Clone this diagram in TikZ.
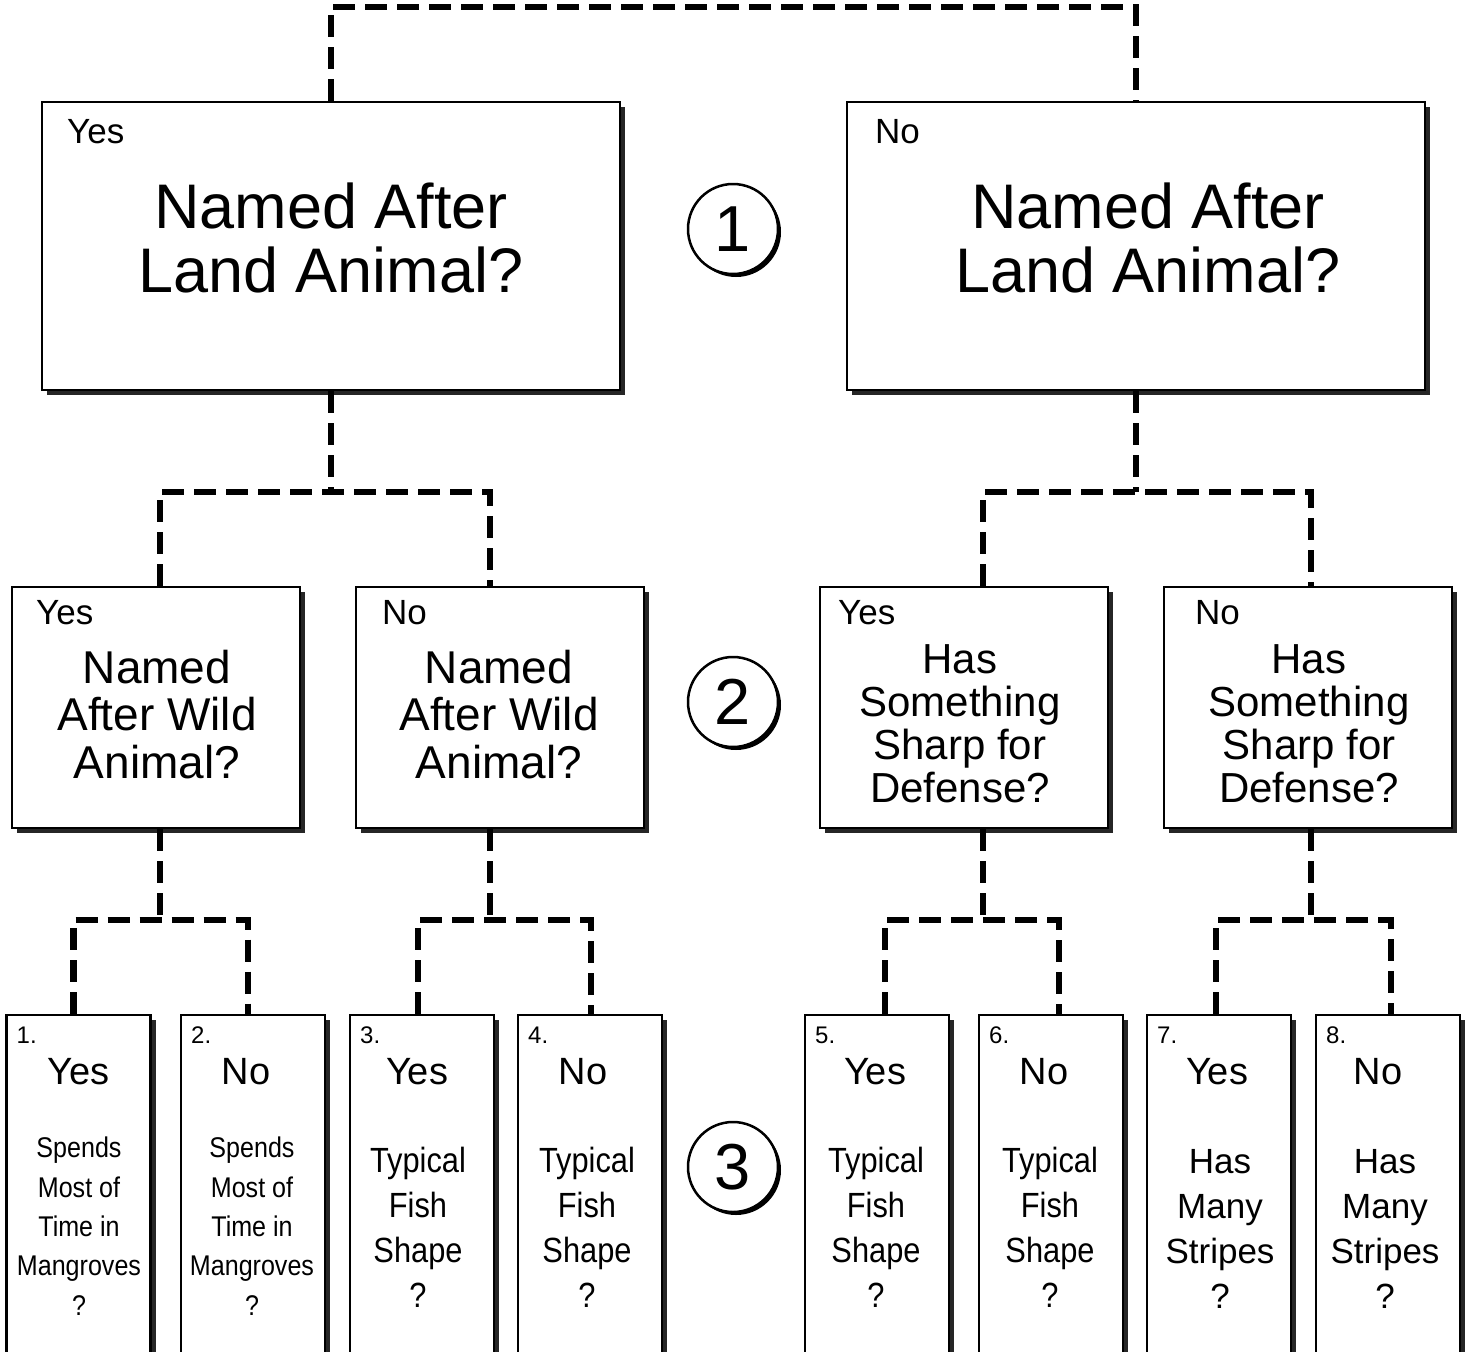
\documentclass[tikz,border=0pt]{standalone}
\usepackage{fontspec}
\setmainfont{Liberation Sans}
\newfontfamily\narrowsf[FakeStretch=0.88]{Liberation Sans}
\usetikzlibrary{shadows}

\tikzset{
  box/.style={draw, line width=2.2pt, fill=white, inner sep=0pt,
    drop shadow={shadow xshift=5pt, shadow yshift=-5pt, fill=black!85, opacity=1}},
  bigbox/.style={box, minimum width=578pt, minimum height=288pt},
  midbox/.style={box, minimum width=288pt, minimum height=241pt},
  leafbox/.style={box, minimum width=144pt, minimum height=345pt},
  badge/.style={circle, draw, line width=2.5pt, fill=white, inner sep=0pt,
    minimum size=90pt, font=\fontsize{65}{65}\selectfont,
    drop shadow={shadow xshift=3pt, shadow yshift=-3pt, fill=black, opacity=1}},
  link/.style={line width=6.5pt, dash pattern=on 22pt off 10pt},
  tag/.style={anchor=base west, inner sep=0pt, font=\fontsize{35}{35}\selectfont},
  num/.style={anchor=base west, inner sep=0pt, font=\fontsize{24}{24}\selectfont},
  ans/.style={anchor=base, inner sep=0pt, font=\fontsize{38}{38}\selectfont},
  % text nodes sit on the baseline of their last line
  bigtxt/.style={anchor=base, align=center, inner sep=0pt, font=\fontsize{63}{64}\selectfont},
  midtxt/.style={anchor=base, align=center, inner sep=0pt, font=\fontsize{46}{47.5}\selectfont},
  sharptxt/.style={anchor=base, align=center, inner sep=0pt, font=\fontsize{42}{43}\selectfont},
  mangtxt/.style={anchor=base, align=center, inner sep=0pt, font=\narrowsf\fontsize{28.5}{39.3}\selectfont},
  fishtxt/.style={anchor=base, align=center, inner sep=0pt, font=\narrowsf\fontsize{35}{44.7}\selectfont},
  stripetxt/.style={anchor=base, align=center, inner sep=0pt, font=\fontsize{35}{45}\selectfont},
}

\begin{document}
\begin{tikzpicture}[x=1pt, y=-1pt]
    \useasboundingbox (0,0) rectangle (1470,1352);
    \clip (0,0) rectangle (1470,1352);

    % Question 1
    \node[bigbox] (q1a) at (331,246) {};
    \node[tag] (q1a-tag) at (67,143) {Yes};
    \node[bigtxt] (q1a-txt) at (331,292) {Named After\\Land Animal?};
    \node[bigbox] (q1b) at (1136,246) {};
    \node[tag] (q1b-tag) at (875,143) {No};
    \node[bigtxt] (q1b-txt) at (1148,292) {Named After\\Land Animal?};
    \node[badge] (c1) at (733,229) {1};

    % Question 2
    \node[midbox] (q2a) at (156,707.5) {};
    \node[tag] (q2a-tag) at (36,624) {Yes};
    \node[midtxt] (q2a-txt) at (157,778) {Named\\After Wild\\Animal?};
    \node[midbox] (q2b) at (500,707.5) {};
    \node[tag] (q2b-tag) at (382,624) {No};
    \node[midtxt] (q2b-txt) at (499,778) {Named\\After Wild\\Animal?};
    \node[midbox] (q2c) at (964,707.5) {};
    \node[tag] (q2c-tag) at (838,624) {Yes};
    \node[sharptxt] (q2c-txt) at (960,802) {Has\\Something\\Sharp for\\Defense?};
    \node[midbox] (q2d) at (1308,707.5) {};
    \node[tag] (q2d-tag) at (1195,624) {No};
    \node[sharptxt] (q2d-txt) at (1309,802) {Has\\Something\\Sharp for\\Defense?};
    \node[badge] (c2) at (733,702) {2};

    % Question 3
    \node[leafbox] (r1) at (78.5,1187.5) {};
    \node[num] (r1-num) at (16.5,1043) {1.};
    \node[ans] (r1-ans) at (78.5,1084) {Yes};
    \node[mangtxt] (r1-txt) at (79,1315) {Spends\\Most of\\Time in\\Mangroves\\?};
    \node[leafbox] (r2) at (253,1187.5) {};
    \node[num] (r2-num) at (191,1043) {2.};
    \node[ans] (r2-ans) at (246,1084) {No};
    \node[mangtxt] (r2-txt) at (252,1315) {Spends\\Most of\\Time in\\Mangroves\\?};
    \node[leafbox] (r3) at (422,1187.5) {};
    \node[num] (r3-num) at (360,1043) {3.};
    \node[ans] (r3-ans) at (417,1084) {Yes};
    \node[fishtxt] (r3-txt) at (418,1307) {Typical\\Fish\\Shape\\?};
    \node[leafbox] (r4) at (590,1187.5) {};
    \node[num] (r4-num) at (528,1043) {4.};
    \node[ans] (r4-ans) at (583,1084) {No};
    \node[fishtxt] (r4-txt) at (587,1307) {Typical\\Fish\\Shape\\?};
    \node[leafbox] (r5) at (877,1187.5) {};
    \node[num] (r5-num) at (815,1043) {5.};
    \node[ans] (r5-ans) at (875,1084) {Yes};
    \node[fishtxt] (r5-txt) at (876,1307) {Typical\\Fish\\Shape\\?};
    \node[leafbox] (r6) at (1051,1187.5) {};
    \node[num] (r6-num) at (989,1043) {6.};
    \node[ans] (r6-ans) at (1044,1084) {No};
    \node[fishtxt] (r6-txt) at (1050,1307) {Typical\\Fish\\Shape\\?};
    \node[leafbox] (r7) at (1219,1187.5) {};
    \node[num] (r7-num) at (1157,1043) {7.};
    \node[ans] (r7-ans) at (1217,1084) {Yes};
    \node[stripetxt] (r7-txt) at (1220,1308) {Has\\Many\\Stripes\\?};
    \node[leafbox] (r8) at (1388,1187.5) {};
    \node[num] (r8-num) at (1326,1043) {8.};
    \node[ans] (r8-ans) at (1378,1084) {No};
    \node[stripetxt] (r8-txt) at (1385,1308) {Has\\Many\\Stripes\\?};
    \node[badge] (c3) at (733,1167) {3};

    % Dashed tree
    \coordinate (top) at (733,7);
    \coordinate (ja) at (331,492);
    \coordinate (jb) at (1136,492);
    \draw[link] (q1a.north) |- (top) -| (q1b.north);
    \draw[link] (q1a.south) -- (ja);
    \draw[link] ([xshift=4pt]q2a.north) |- (ja) -| ([xshift=-10pt]q2b.north);
    \draw[link] (q1b.south) -- (jb);
    \draw[link] ([xshift=19pt]q2c.north) |- (jb) -| ([xshift=3pt]q2d.north);

    \coordinate (jA) at (160,920);
    \coordinate (jB) at (490,920);
    \coordinate (jC) at (983,920);
    \coordinate (jD) at (1311,920);
    \draw[link] ([xshift=4pt]q2a.south) -- (jA);
    \draw[link] ([xshift=-5pt]r1.north) |- (jA) -| ([xshift=-5pt]r2.north);
    \draw[link] ([xshift=-10pt]q2b.south) -- (jB);
    \draw[link] ([xshift=-4pt]r3.north) |- (jB) -| ([xshift=1pt]r4.north);
    \draw[link] ([xshift=19pt]q2c.south) -- (jC);
    \draw[link] ([xshift=8pt]r5.north) |- (jC) -| ([xshift=8pt]r6.north);
    \draw[link] ([xshift=3pt]q2d.south) -- (jD);
    \draw[link] ([xshift=-3pt]r7.north) |- (jD) -| ([xshift=3pt]r8.north);
\end{tikzpicture}
\end{document}
